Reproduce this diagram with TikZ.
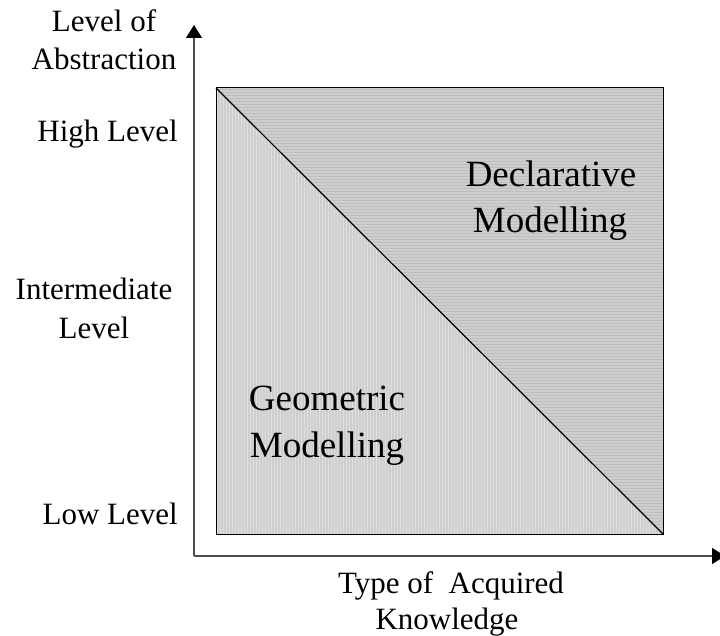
\documentclass[tikz,border=0pt]{standalone}
\usepackage{fontspec}
\setmainfont{Liberation Serif}
\usetikzlibrary{arrows.meta}
\begin{document}
\begin{tikzpicture}[x=1pt,y=-1pt,
  axis/.style={draw=black!70, line width=1.4pt, -{Triangle[length=13pt,width=16pt,color=black]}},
  lbl/.style={font=\fontsize{31}{38}\selectfont, inner sep=0pt, anchor=base},
  big/.style={font=\fontsize{37}{46}\selectfont, inner sep=0pt, anchor=base}]
\useasboundingbox (0,0) rectangle (720,636);
\definecolor{bg}{RGB}{206,206,206}
\definecolor{hl}{RGB}{190,190,190}
\definecolor{vl}{RGB}{222,222,222}
\coordinate (TL) at (216,88);
\coordinate (TR) at (663,88);
\coordinate (BL) at (216,534);
\coordinate (BR) at (663,534);
\coordinate (O) at (194,556);
\coordinate (Ytop) at (194,25);
\coordinate (Xend) at (725,556);
% upper triangle
\begin{scope}
  \clip (TL) -- (TR) -- (BR) -- cycle;
  \fill[bg] (TL) rectangle (BR);
  \foreach \y in {89,92,...,534} \draw[hl, line width=0.6pt] (216,\y) -- (663,\y);
\end{scope}
% lower triangle
\begin{scope}
  \clip (TL) -- (BL) -- (BR) -- cycle;
  \fill[bg] (TL) rectangle (BR);
  \foreach \x in {217,220,...,663} \draw[vl, line width=0.9pt] (\x,88) -- (\x,534);
\end{scope}
\draw[black, line width=1pt] (TL) rectangle (BR);
\draw[black, line width=1.2pt] (TL) -- (BR);
% axes
\draw[axis] (O) -- (Ytop);
\draw[axis] (O) -- (Xend);
% labels
\node[lbl] (yl1) at (104,32) {Level of};
\node[lbl] (yl2) at (104,70) {Abstraction};
\node[lbl, anchor=base east] (hi) at (178,142) {High Level};
\node[lbl] (mid1) at (94,300) {Intermediate};
\node[lbl] (mid2) at (94,338) {Level};
\node[lbl, anchor=base east] (lo) at (178,524) {Low Level};
\node[lbl] (xl1) at (451,593) {Type of~~Acquired};
\node[lbl] (xl2) at (447,629) {Knowledge};
\node[big] (decl1) at (551,187) {Declarative};
\node[big] (decl2) at (550,233) {Modelling};
\node[big] (geo1) at (327,410) {Geometric};
\node[big] (geo2) at (327,457) {Modelling};
\end{tikzpicture}
\end{document}
